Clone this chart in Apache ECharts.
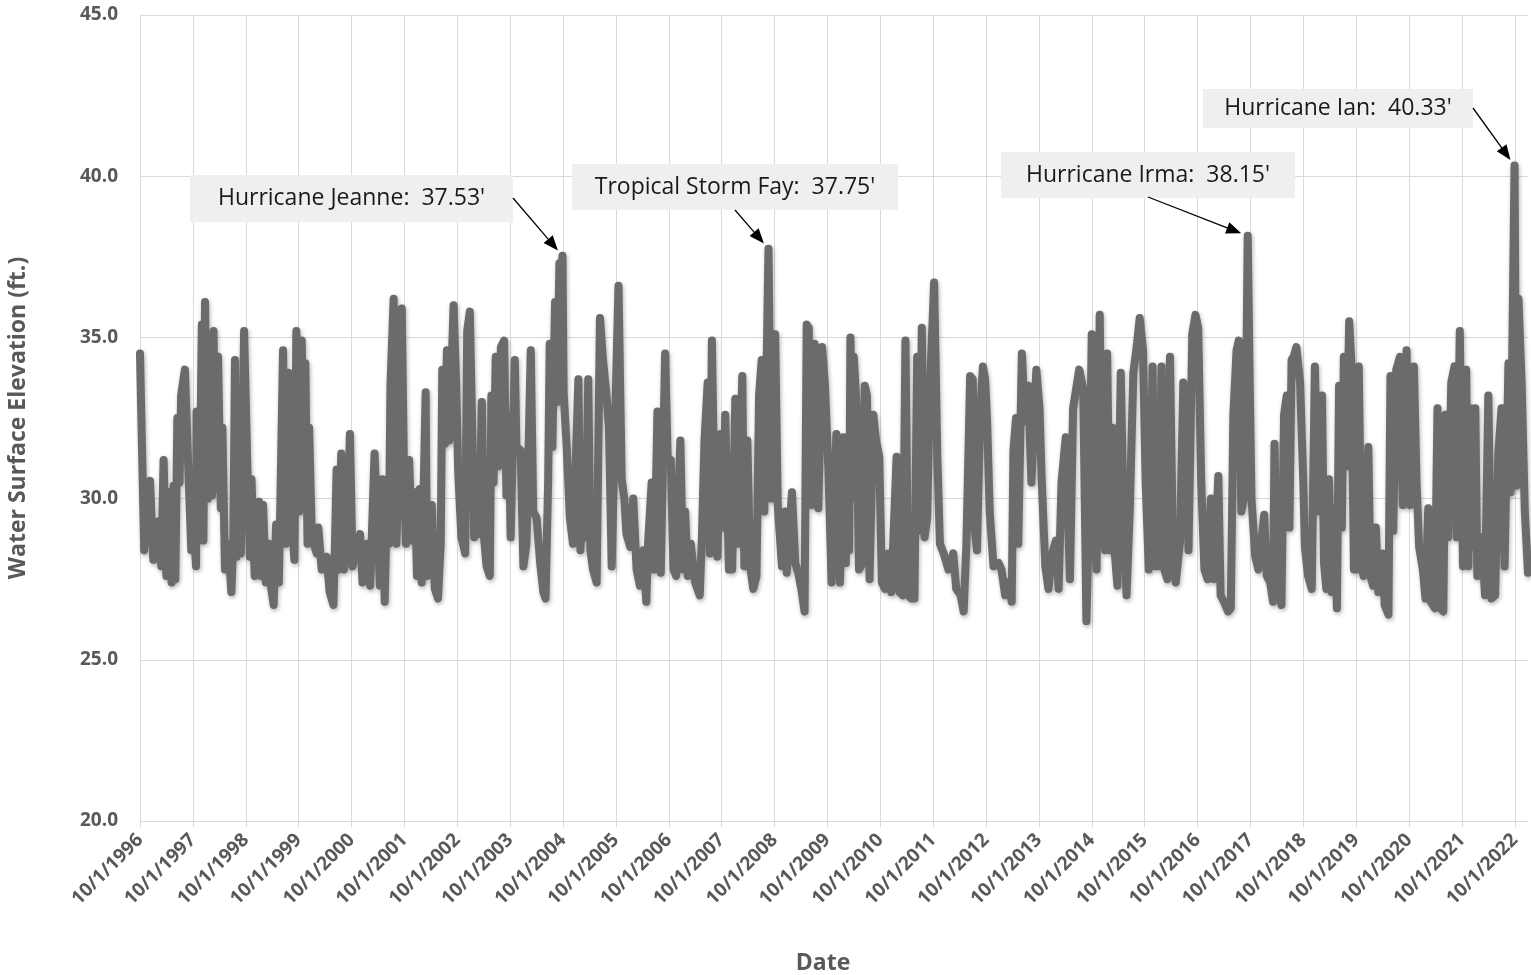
<!DOCTYPE html>
<html>
<head>
<meta charset="utf-8">
<script src="https://cdn.jsdelivr.net/npm/echarts@6/dist/echarts.min.js"></script>
<style>
  html, body { margin: 0; padding: 0; background: #ffffff; }
  #chart { width: 1531px; height: 975px; }
</style>
</head>
<body>
<div id="chart"></div>
<script>
// Lake stage record: [date, water surface elevation in ft]
const readings = [
  ['1996-10-01',34.5],['1996-10-30',28.4],['1996-12-09',30.55],
  ['1997-01-01',28.1],['1997-02-07',29.3],['1997-02-25',27.9],['1997-03-13',31.2],['1997-04-01',27.6],['1997-04-19',30.2],
  ['1997-05-07',27.4],['1997-05-21',30.4],['1997-06-02',27.5],['1997-06-16',32.5],['1997-07-01',30.5],['1997-07-12',33.2],
  ['1997-08-07',34.0],['1997-08-28',31.3],['1997-09-20',28.4],['1997-10-01',29.8],['1997-10-23',27.9],['1997-10-27',32.7],
  ['1997-11-14',28.7],['1997-12-02',35.4],['1997-12-13',28.7],['1997-12-24',36.1],
  ['1998-01-12',30.0],['1998-01-26',34.6],['1998-02-10',30.1],['1998-02-21',35.2],['1998-03-06',30.3],['1998-03-24',34.4],
  ['1998-04-12',29.7],['1998-04-23',32.2],['1998-05-11',27.8],['1998-06-02',28.6],['1998-06-24',27.1],['1998-07-08',28.8],
  ['1998-07-19',34.3],['1998-07-30',28.2],['1998-08-14',32.3],['1998-08-28',28.3],['1998-09-20',35.2],['1998-10-15',30.5],
  ['1998-10-30',28.2],['1998-11-10',30.6],['1998-12-02',27.6],
  ['1999-01-01',29.9],['1999-01-15',27.6],['1999-01-29',29.8],['1999-02-17',27.4],['1999-03-09',28.6],['1999-03-27',27.2],
  ['1999-04-12',26.7],['1999-04-29',29.2],['1999-05-18',27.4],['1999-05-29',30.0],['1999-06-16',34.6],['1999-07-05',28.6],
  ['1999-07-23',33.9],['1999-08-14',29.6],['1999-09-02',28.1],['1999-09-16',35.2],['1999-10-05',29.6],['1999-10-23',34.9],
  ['1999-11-10',30.7],['1999-11-17',34.2],['1999-12-02',28.6],['1999-12-13',32.2],
  ['2000-01-01',28.8],['2000-02-03',28.3],['2000-02-14',29.1],['2000-03-09',27.8],['2000-04-12',28.2],['2000-05-03',27.1],
  ['2000-05-29',26.7],['2000-06-09',28.7],['2000-06-20',30.9],['2000-07-04',27.8],['2000-07-22',31.4],['2000-08-10',27.8],
  ['2000-09-02',29.0],['2000-09-20',32.0],['2000-10-08',27.9],['2000-11-29',28.9],['2000-12-16',27.4],
  ['2001-01-15',28.6],['2001-02-07',27.3],['2001-03-09',31.4],['2001-04-15',27.3],['2001-05-03',30.6],['2001-05-18',26.8],
  ['2001-06-05',30.4],['2001-06-16',28.6],['2001-06-27',33.5],['2001-07-19',36.2],['2001-08-07',28.6],['2001-08-25',31.2],
  ['2001-09-13',35.9],['2001-09-27',31.3],['2001-10-12',28.6],['2001-11-03',31.2],['2001-11-21',28.7],['2001-12-13',30.2],
  ['2001-12-27',27.6],
  ['2002-01-15',30.3],['2002-01-29',27.4],['2002-02-25',33.3],['2002-03-06',27.6],['2002-04-08',29.8],['2002-04-29',27.2],
  ['2002-05-21',26.9],['2002-06-09',28.6],['2002-06-20',34.0],['2002-07-08',31.7],['2002-07-22',34.6],['2002-08-07',31.8],
  ['2002-09-06',36.0],['2002-09-24',33.5],['2002-10-08',30.8],['2002-10-30',28.8],['2002-11-25',28.3],['2002-12-09',35.2],
  ['2002-12-27',35.8],
  ['2003-01-15',31.6],['2003-01-26',28.8],['2003-02-14',29.6],['2003-03-02',28.9],['2003-03-20',33.0],['2003-04-04',28.8],
  ['2003-04-22',27.9],['2003-05-14',27.6],['2003-05-25',33.2],['2003-06-09',30.5],['2003-06-24',34.4],['2003-07-12',31.0],
  ['2003-07-30',34.7],['2003-08-21',34.9],['2003-09-06',30.1],['2003-09-20',32.6],['2003-10-05',28.8],['2003-11-03',34.3],
  ['2003-11-14',31.6],['2003-12-13',31.5],
  ['2004-01-01',27.9],['2004-01-22',28.6],['2004-02-21',34.6],['2004-03-09',29.6],['2004-04-01',29.4],['2004-04-26',28.0],
  ['2004-05-18',27.1],['2004-06-02',26.9],['2004-06-20',30.5],['2004-07-01',34.8],['2004-07-19',31.6],['2004-08-07',36.1],
  ['2004-08-20',33.0],['2004-09-06',37.3],['2004-09-16',36.4],['2004-10-05',33.3],['2004-10-26',31.6],
  ['2004-11-17',29.4],['2004-12-09',28.6],['2004-12-27',31.0],
  ['2005-01-15',33.7],['2005-01-29',28.4],['2005-02-17',30.0],['2005-03-06',28.8],['2005-03-24',33.7],['2005-04-08',28.4],
  ['2005-04-26',27.8],['2005-05-21',27.4],['2005-06-13',35.6],['2005-07-04',34.3],['2005-07-30',33.1],['2005-08-14',32.2],
  ['2005-09-02',27.9],['2005-10-05',34.1],['2005-10-19',36.6],['2005-11-10',30.6],['2005-11-28',30.0],['2005-12-13',28.9],
  ['2006-01-08',28.5],['2006-01-29',30.0],['2006-02-21',27.8],['2006-03-16',27.3],['2006-04-08',28.4],['2006-04-29',26.8],
  ['2006-05-11',28.6],['2006-06-05',30.5],['2006-06-24',27.8],['2006-07-15',32.7],['2006-08-07',27.7],['2006-09-06',34.5],
  ['2006-09-24',31.2],['2006-10-15',31.2],['2006-11-03',27.8],['2006-11-21',27.6],['2006-12-20',31.8],
  ['2007-01-08',27.8],['2007-01-22',29.6],['2007-02-10',27.6],['2007-03-02',28.6],['2007-04-01',27.4],['2007-05-03',27.0],
  ['2007-05-18',28.8],['2007-06-05',31.8],['2007-06-27',33.6],['2007-07-12',28.3],['2007-07-26',34.9],['2007-08-14',29.6],
  ['2007-09-02',28.2],['2007-09-24',32.0],['2007-10-12',29.1],['2007-10-26',32.6],['2007-11-21',27.8],['2007-12-13',27.8],
  ['2008-01-04',33.1],['2008-01-22',28.6],['2008-02-21',33.8],['2008-03-06',27.9],['2008-03-27',31.8],['2008-04-15',27.9],
  ['2008-05-07',27.2],['2008-05-29',27.6],['2008-06-16',33.2],['2008-07-04',34.3],['2008-07-22',29.6],
  ['2008-09-09',30.0],['2008-10-05',35.1],['2008-10-23',29.8],['2008-11-21',27.9],['2008-12-13',29.6],['2008-12-24',27.7],
  ['2009-01-29',30.2],['2009-02-21',28.0],['2009-03-13',27.7],['2009-04-04',27.2],['2009-04-26',26.5],['2009-05-11',35.4],
  ['2009-05-25',35.3],['2009-06-13',29.8],['2009-07-04',34.8],['2009-07-30',29.7],['2009-08-25',34.7],['2009-09-13',33.6],
  ['2009-10-08',30.9],['2009-10-30',27.4],['2009-12-02',32.0],['2009-12-27',27.4],
  ['2010-01-19',31.9],['2010-02-05',28.0],['2010-02-17',31.7],['2010-02-28',28.4],['2010-03-09',35.0],['2010-03-24',30.0],
  ['2010-04-01',34.4],['2010-04-19',33.0],['2010-05-07',27.8],['2010-06-02',28.0],['2010-06-16',33.5],['2010-07-01',33.2],
  ['2010-07-19',27.5],['2010-08-14',32.6],['2010-09-02',31.8],['2010-09-24',31.3],['2010-10-12',27.4],['2010-11-03',27.2],
  ['2010-11-25',28.3],['2010-12-16',27.1],
  ['2011-01-22',31.3],['2011-02-10',27.1],['2011-03-06',27.0],['2011-03-24',34.9],['2011-04-12',27.0],['2011-05-03',26.9],
  ['2011-05-25',26.9],['2011-06-13',34.4],['2011-07-01',29.0],['2011-07-15',35.3],['2011-08-03',28.8],['2011-08-21',29.4],
  ['2011-09-09',33.4],['2011-10-08',36.7],['2011-10-30',31.3],['2011-11-17',28.6],['2011-12-13',28.3],
  ['2012-01-15',27.8],['2012-02-17',28.3],['2012-03-09',27.2],['2012-04-08',27.0],['2012-04-29',26.5],['2012-05-18',28.6],
  ['2012-06-13',33.8],['2012-07-01',33.7],['2012-07-15',29.0],['2012-07-30',28.4],['2012-08-21',32.6],['2012-09-09',34.1],
  ['2012-09-24',33.7],['2012-10-08',32.4],['2012-10-26',29.6],['2012-11-21',27.9],['2012-12-27',28.0],
  ['2013-01-15',27.8],['2013-02-10',27.0],['2013-03-02',27.4],['2013-03-27',26.8],['2013-04-08',31.5],['2013-04-26',32.5],
  ['2013-05-11',28.6],['2013-06-05',34.5],['2013-06-27',32.4],['2013-07-19',33.5],['2013-08-10',30.5],['2013-09-13',34.0],
  ['2013-10-05',32.8],['2013-10-19',30.7],['2013-11-14',27.9],['2013-12-06',27.2],['2013-12-27',28.2],
  ['2014-01-26',28.7],['2014-02-14',27.2],['2014-03-06',30.5],['2014-04-04',31.9],['2014-05-03',27.5],['2014-05-25',32.8],
  ['2014-07-06',34.0],['2014-08-03',33.4],['2014-08-25',26.2],['2014-09-13',29.6],['2014-10-01',35.1],['2014-10-15',29.6],
  ['2014-11-03',27.8],['2014-11-25',35.7],['2014-12-13',29.0],
  ['2015-01-01',28.4],['2015-01-15',34.5],['2015-02-03',28.4],['2015-02-21',32.2],['2015-03-09',28.3],['2015-03-27',27.3],
  ['2015-04-19',33.9],['2015-05-07',29.8],['2015-05-29',27.0],['2015-06-20',29.6],['2015-07-15',33.9],['2015-08-07',34.7],
  ['2015-08-28',35.6],['2015-09-20',34.6],['2015-10-08',30.5],['2015-10-30',27.8],['2015-11-25',34.1],['2015-12-13',27.9],
  ['2016-01-04',27.9],['2016-01-26',34.1],['2016-02-14',27.8],['2016-03-06',27.5],['2016-03-24',34.4],['2016-04-15',28.0],
  ['2016-05-03',27.4],['2016-06-02',28.7],['2016-06-24',33.6],['2016-07-12',33.0],['2016-07-30',28.4],['2016-08-25',35.1],
  ['2016-09-16',35.7],['2016-10-05',35.3],['2016-10-26',30.5],['2016-11-17',27.8],['2016-12-09',27.5],
  ['2017-01-01',30.0],['2017-01-22',27.5],['2017-02-21',30.7],['2017-03-09',27.0],['2017-04-01',26.8],['2017-04-29',26.5],
  ['2017-05-18',26.6],['2017-06-05',32.6],['2017-06-27',34.6],['2017-07-12',34.9],['2017-07-30',29.6],['2017-08-25',30.2],
  ['2017-09-27',33.2],['2017-10-08',30.0],['2017-11-03',28.2],['2017-11-25',27.8],
  ['2018-01-04',29.5],['2018-01-22',27.6],['2018-02-14',27.4],['2018-03-06',26.8],['2018-03-16',31.7],['2018-04-04',27.2],
  ['2018-05-03',26.7],['2018-05-21',32.6],['2018-06-09',33.2],['2018-06-27',29.1],['2018-07-12',34.3],['2018-07-26',34.4],
  ['2018-08-14',34.7],['2018-09-09',33.6],['2018-10-01',30.5],['2018-10-12',28.5],['2018-11-03',27.6],['2018-11-28',27.2],
  ['2018-12-20',34.1],
  ['2019-01-12',29.6],['2019-02-07',33.2],['2019-02-21',28.0],['2019-03-09',27.2],['2019-03-27',30.6],['2019-04-15',27.1],
  ['2019-05-03',29.7],['2019-05-21',26.6],['2019-06-05',33.5],['2019-06-24',29.1],['2019-07-08',34.4],['2019-07-26',31.0],
  ['2019-08-14',35.5],['2019-08-28',34.3],['2019-09-16',27.8],['2019-10-05',27.8],['2019-10-19',34.1],['2019-11-07',27.9],
  ['2019-11-21',27.6],['2019-12-24',31.6],
  ['2020-01-08',27.6],['2020-01-26',27.3],['2020-02-14',29.1],['2020-03-02',27.1],['2020-04-01',28.3],['2020-04-15',26.7],
  ['2020-05-11',26.4],['2020-05-25',33.8],['2020-06-13',29.0],['2020-07-04',34.0],['2020-07-30',34.4],['2020-08-18',29.8],
  ['2020-09-13',34.6],['2020-10-08',29.8],['2020-11-03',34.1],['2020-11-21',30.5],['2020-12-09',28.5],
  ['2021-01-04',27.8],['2021-01-22',26.9],['2021-02-10',29.7],['2021-02-28',26.8],['2021-03-27',26.6],['2021-04-15',32.8],
  ['2021-05-03',26.6],['2021-05-25',26.5],['2021-06-09',32.6],['2021-06-27',28.8],['2021-07-19',33.6],['2021-08-10',34.1],
  ['2021-08-25',28.8],['2021-09-16',35.2],['2021-10-08',27.9],['2021-10-30',34.0],['2021-11-14',27.9],['2021-11-28',32.8],
  ['2021-12-15',28.5],
  ['2022-01-01',32.8],['2022-01-15',27.6],['2022-02-14',28.8],['2022-03-09',27.0],['2022-04-01',33.2],['2022-04-22',26.9],
  ['2022-05-18',27.0],['2022-06-09',31.4],['2022-07-01',32.8],['2022-07-22',27.9],['2022-08-18',34.2],['2022-09-02',30.2],
  ['2022-10-12',30.4],['2022-10-26',36.2],['2022-11-17',33.6],['2022-12-09',29.6],['2022-12-31',27.7]
];

// Named storm peaks: [label, date, peak elevation in ft]
const stormPeaks = [
  ['Hurricane Jeanne',   '2004-09-27', 37.53],
  ['Tropical Storm Fay', '2008-08-20', 37.75],
  ['Hurricane Irma',     '2017-09-12', 38.15],
  ['Hurricane Ian',      '2022-09-29', 40.33]
];

// Axis ranges
const axisStartDate = '1996-10-01';
const axisEndDate = '2022-12-31';
const yMin = 20, yMax = 45, yStep = 5;

// Callout box placement (pixels): box [x, y, w, h] and arrow start point
const calloutLayout = [
  { box: [190, 175, 323, 47], from: [513, 198] },
  { box: [572, 164, 326, 46], from: [735, 210] },
  { box: [1001, 152, 294, 46], from: [1148, 197] },
  { box: [1203, 89, 270, 39], from: [1473, 108] }
];

const YEAR_MS = 365.25 * 86400000;
const originMs = Date.parse(axisStartDate + 'T00:00:00Z');
const toYears = d => (Date.parse(d + 'T00:00:00Z') - originMs) / YEAR_MS;

const seriesData = readings
  .concat(stormPeaks.map(s => [s[1], s[2]]))
  .map(r => [toYears(r[0]), r[1]])
  .sort((a, b) => a[0] - b[0]);

const xMax = toYears(axisEndDate);
const yearCount = Math.floor(xMax);
const gridColor = '#d9d9d9';
const textColor = '#595959';
const uiFont = '"Open Sans", "Noto Sans", sans-serif';

// one split-line colour per yearly tick; the trailing end-of-range tick stays hidden
const splitColors = [];
for (let i = 0; i <= yearCount; i++) splitColors.push(gridColor);
splitColors.push('rgba(0,0,0,0)');

const chart = echarts.init(document.getElementById('chart'), null, { renderer: 'canvas' });

const option = {
  animation: false,
  backgroundColor: '#ffffff',
  grid: { left: 140, right: 3, top: 15, bottom: 154, containLabel: false, outerBoundsMode: 'none' },
  xAxis: {
    type: 'value',
    min: 0,
    max: xMax,
    interval: 1,
    name: 'Date',
    nameLocation: 'middle',
    nameGap: 131,
    nameTextStyle: { color: textColor, fontWeight: 'bold', fontSize: 23, fontFamily: uiFont, padding: [0, 22, 0, 0] },
    axisLine: { show: true, lineStyle: { color: gridColor, width: 1 } },
    axisTick: { show: true, length: 6, lineStyle: { color: gridColor } },
    splitLine: { show: true, lineStyle: { color: splitColors, width: 1 } },
    axisLabel: {
      rotate: 45,
      margin: 16,
      color: textColor,
      fontWeight: 'bold',
      fontSize: 19,
      fontFamily: uiFont,
      showMaxLabel: false,
      formatter: v => Math.abs(v - Math.round(v)) < 1e-6 ? '10/1/' + (1996 + Math.round(v)) : ''
    }
  },
  yAxis: {
    type: 'value',
    min: yMin,
    max: yMax,
    interval: yStep,
    name: 'Water Surface Elevation (ft.)',
    nameLocation: 'middle',
    nameRotate: 90,
    nameGap: 110,
    nameTextStyle: { color: textColor, fontWeight: 'bold', fontSize: 23, fontFamily: uiFont },
    axisLine: { show: true, lineStyle: { color: gridColor, width: 1 } },
    axisTick: { show: false },
    splitLine: { show: true, lineStyle: { color: gridColor, width: 1 } },
    axisLabel: {
      margin: 22,
      color: textColor,
      fontWeight: 'bold',
      fontSize: 19,
      fontFamily: uiFont,
      formatter: v => v.toFixed(1)
    }
  },
  series: [{
    type: 'line',
    data: seriesData,
    symbol: 'none',
    showSymbol: false,
    silent: true,
    lineStyle: {
      color: '#6b6b6b',
      width: 8,
      cap: 'round',
      join: 'round',
      shadowBlur: 4,
      shadowColor: 'rgba(0,0,0,0.3)',
      shadowOffsetX: 1,
      shadowOffsetY: 2
    },
    z: 3
  }]
};

chart.setOption(option);

// Callout boxes with arrows pointing at each storm peak
const graphics = [];
stormPeaks.forEach((s, i) => {
  const L = calloutLayout[i];
  const [bx, by, bw, bh] = L.box;
  graphics.push({
    type: 'rect', z: 100,
    shape: { x: bx, y: by, width: bw, height: bh },
    style: { fill: '#efefef' }
  });
  graphics.push({
    type: 'text', z: 101,
    x: bx + bw / 2, y: by + bh / 2,
    style: {
      text: s[0] + ':  ' + s[2].toFixed(2) + "'",
      fill: '#1a1a1a',
      font: '23px ' + uiFont,
      textAlign: 'center',
      textVerticalAlign: 'middle'
    }
  });
  const peak = chart.convertToPixel({ gridIndex: 0 }, [toYears(s[1]), s[2]]);
  const [fx, fy] = L.from;
  const dx = peak[0] - fx, dy = peak[1] - fy;
  const len = Math.hypot(dx, dy);
  const ux = dx / len, uy = dy / len;
  const tip = [peak[0] - ux * 7, peak[1] - uy * 7];
  const base = [tip[0] - ux * 15, tip[1] - uy * 15];
  graphics.push({
    type: 'line', z: 102,
    shape: { x1: fx, y1: fy, x2: base[0] + ux * 2, y2: base[1] + uy * 2 },
    style: { stroke: '#000000', lineWidth: 1.3 }
  });
  graphics.push({
    type: 'polygon', z: 102,
    shape: { points: [tip, [base[0] - uy * 6, base[1] + ux * 6], [base[0] + uy * 6, base[1] - ux * 6]] },
    style: { fill: '#000000' }
  });
});
chart.setOption({ graphic: graphics });
</script>
</body>
</html>
